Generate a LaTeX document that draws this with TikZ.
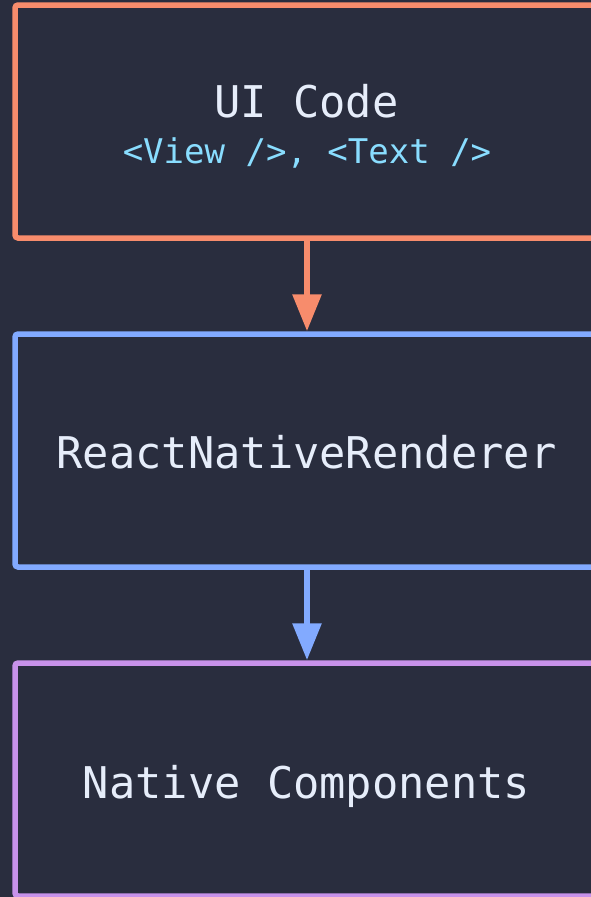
\documentclass[tikz,border=0pt]{standalone}
\usepackage{fontspec}
\setmonofont{DejaVu Sans Mono}
\usetikzlibrary{arrows.meta}

\definecolor{bgdark}{HTML}{292D3E}
\definecolor{uiorange}{HTML}{F78C6C}
\definecolor{rnblue}{HTML}{82AAFF}
\definecolor{nativepurple}{HTML}{C792EA}
\definecolor{textlight}{HTML}{E6EDFA}
\definecolor{tagcyan}{HTML}{89DDFF}

\begin{document}
\begin{tikzpicture}[%
	    x=1pt,
	    y=-1pt,
	    layer/.style={draw=#1, line width=5.5pt, rounded corners=3pt,
	      minimum width=584pt, minimum height=233pt, inner sep=0pt},
	    title/.style={text=textlight, anchor=base,
	      font=\ttfamily\fontsize{43.7}{46}\selectfont},
	    subtitle/.style={text=tagcyan, anchor=base,
	      font=\ttfamily\fontsize{34}{40}\selectfont},
	    flow/.style={draw=#1, line width=6pt,
	      -{Triangle[length=37pt,width=28pt]}}
	  ]

  \useasboundingbox (0,0) rectangle (591,897);
  \clip (0,0) rectangle (591,897);
  \fill[bgdark] (0,0) rectangle (591,897);

  % layers
	  \node[layer=uiorange] (UI) at (307,121.5) {};
	  \node[layer=rnblue] (RN) at (307,450.5) {};
	  \node[layer=nativepurple] (NC) at (307,779.5) {};

	  \node[title] (UIname) at (306.5,117) {UI Code};
	  \node[subtitle] (UItags) at (307,163) {<View />, <Text />};
	  \node[title] (RNname) at (306.5,468) {ReactNativeRenderer};
	  \node[title] (NCname) at (306.5,798) {Native Components};

	  \path
	      (UI) edge [flow=uiorange] (RN)
	      (RN) edge [flow=rnblue] (NC);

      \end{tikzpicture}
\end{document}
